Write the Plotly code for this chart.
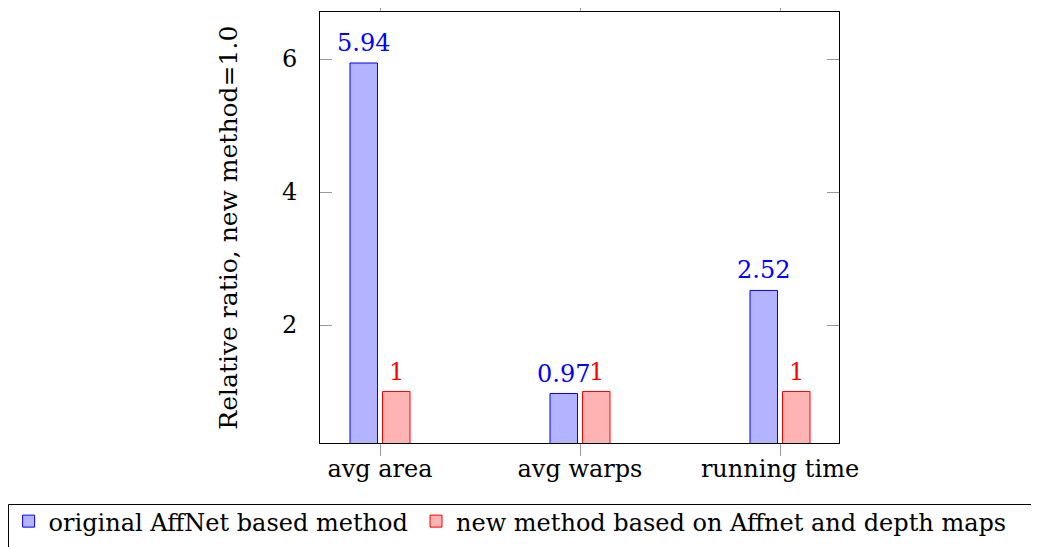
import plotly.graph_objects as go

categories = ["avg area", "avg warps", "running time"]
original_vals = [5.94, 0.97, 2.52]
new_vals = [1, 1, 1]
series_names = ["original AffNet based method", "new method based on Affnet and depth maps"]
y_ticks = [2, 4, 6]

FONT = "DejaVu Serif"
BLUE_FILL = "rgb(179,179,255)"
RED_FILL = "rgb(255,179,179)"

xs = list(range(len(categories)))
bar_w = 0.1375
off_blue = -0.15
off_red = 0.0125

fig = go.Figure()
fig.add_trace(go.Bar(
    x=xs, y=original_vals, name=series_names[0], width=bar_w, offset=off_blue,
    marker=dict(color=BLUE_FILL, line=dict(color="blue", width=1)),
    legend="legend",
))
fig.add_trace(go.Bar(
    x=xs, y=new_vals, name=series_names[1], width=bar_w, offset=off_red,
    marker=dict(color=RED_FILL, line=dict(color="red", width=1)),
    legend="legend2",
))

annotations = []
for i, v in enumerate(original_vals):
    annotations.append(dict(x=i + off_blue + bar_w / 2, y=v, xref="x", yref="y",
                            text=f"{v:g}", showarrow=False, yanchor="bottom", yshift=4,
                            font=dict(family=FONT, size=24, color="blue")))
for i, v in enumerate(new_vals):
    annotations.append(dict(x=i + off_red + bar_w / 2, y=v, xref="x", yref="y",
                            text=f"{v:g}", showarrow=False, yanchor="bottom", yshift=4,
                            font=dict(family=FONT, size=24, color="red")))
annotations.append(dict(x=-0.177, y=0.5, xref="paper", yref="paper",
                        text="Relative ratio, new method=1.0", showarrow=False,
                        textangle=-90, xanchor="center", yanchor="middle",
                        font=dict(family=FONT, size=25, color="black")))

legend_common = dict(orientation="h", yanchor="top", xanchor="left", borderwidth=0,
                     bgcolor="rgba(0,0,0,0)", font=dict(family=FONT, size=24),
                     itemwidth=30)

fig.update_layout(
    width=1039, height=547,
    margin=dict(l=312, r=208, t=4, b=112, autoexpand=False),
    plot_bgcolor="white", paper_bgcolor="white",
    font=dict(family=FONT, size=24, color="black"),
    barmode="overlay",
    showlegend=True,
    legend=dict(x=-0.600, y=-0.130, **legend_common),
    legend2=dict(x=0.185, y=-0.130, **legend_common),
    annotations=annotations,
    shapes=[dict(type="rect", xref="paper", yref="paper",
                 x0=-0.60019, x1=1.40, y0=-0.14269, y1=-0.30,
                 line=dict(color="black", width=1), fillcolor="rgba(0,0,0,0)",
                 layer="below")],
    xaxis=dict(range=[-0.3, 2.295], tickvals=xs, ticktext=categories,
               showline=True, linecolor="black", linewidth=1, mirror="allticks",
               ticks="outside", ticklen=12, tickcolor="#999999", showgrid=False,
               zeroline=False, tickfont=dict(family=FONT, size=24),
               ticklabelstandoff=-8),
    yaxis=dict(range=[0.226, 6.707], tickvals=y_ticks, ticktext=[str(t) for t in y_ticks],
               showline=True, linecolor="black", linewidth=1, mirror="allticks",
               ticks="inside", ticklen=12, tickcolor="#999999", showgrid=False,
               zeroline=False, tickfont=dict(family=FONT, size=24),
               ticklabelstandoff=17),
)

fig.write_html("out.html")
